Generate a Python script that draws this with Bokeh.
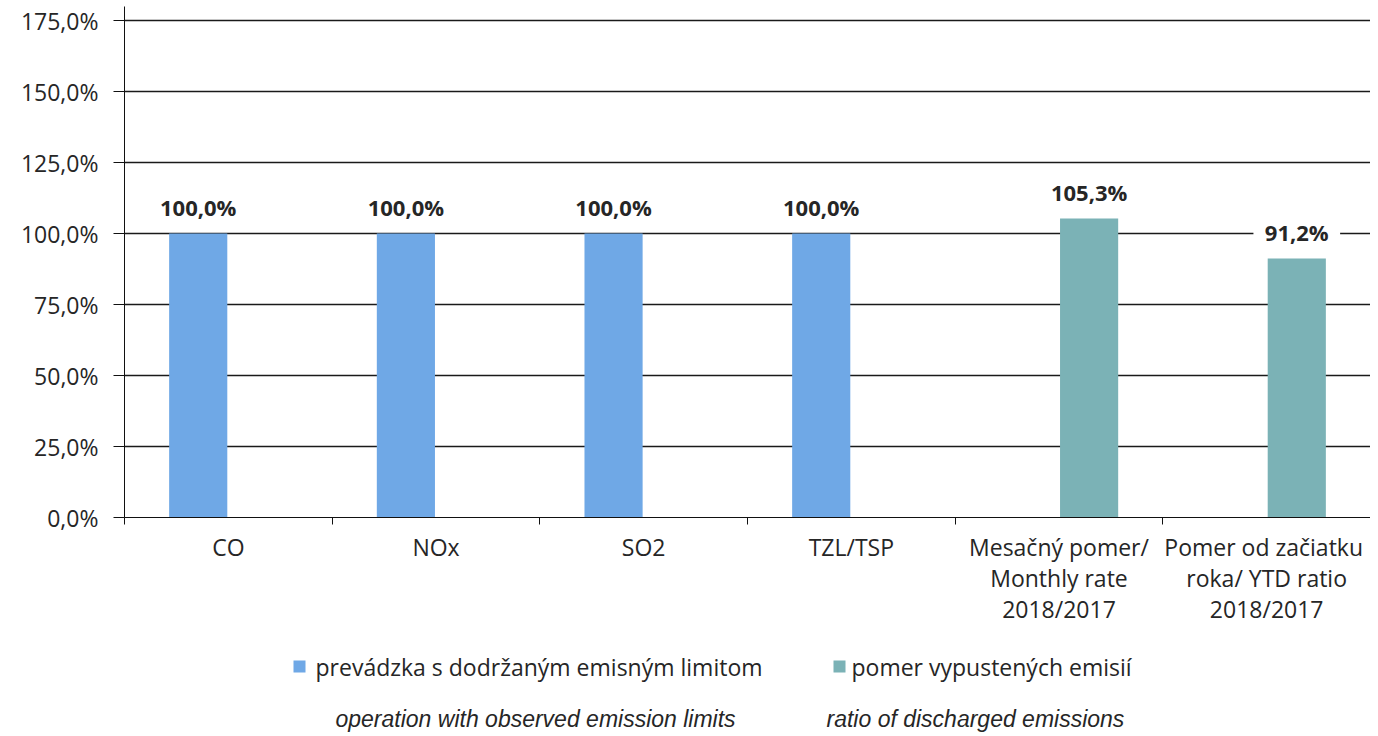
from bokeh.plotting import figure
from bokeh.layouts import column
from bokeh.models import (ColumnDataSource, FixedTicker, Range1d, LabelSet)
from bokeh.core.properties import value
from bokeh.transform import dodge
from bokeh.embed import file_html
from bokeh.resources import INLINE
import numpy as np

# ---- data ----
categories = ["CO", "NOx", "SO2", "TZL/TSP",
              "Mesačný pomer/\nMonthly rate\n2018/2017",
              "Pomer  od začiatku\nroka/ YTD ratio\n2018/2017"]
series_names = ["prevádzka s dodržaným emisným limitom", "pomer vypustených emisií"]
series_subtitles = ["operation with observed emission limits", "ratio of discharged emissions"]
limit_values = [100.0, 100.0, 100.0, 100.0, None, None]
ratio_values = [None, None, None, None, 105.3, 91.2]
series_values = [limit_values, ratio_values]
series_colors = ["#6FA8E6", "#7BB2B6"]
y_ticks = [0, 25, 50, 75, 100, 125, 150, 175]

def pct(v):
    return f"{v:.1f}".replace(".", ",") + "%"

NB = "\u00a0"
FONT = "Open Sans"
TXT = "#262626"
W = 1370
LEFT = 124

x_all = np.arange(len(categories)) + 0.5

p = figure(width=W, height=636, output_backend="svg", toolbar_location=None,
           x_range=Range1d(0, len(categories)), y_range=Range1d(0, 180),
           min_border_left=LEFT, min_border_right=0, min_border_top=6,
           min_border_bottom=119)
p.outline_line_color = None

bar_w = 0.28
offsets = [-0.145, 0.145]
for vals, col, off in zip(series_values, series_colors, offsets):
    idx = [i for i, v in enumerate(vals) if v is not None]
    src = ColumnDataSource(dict(x=[x_all[i] for i in idx],
                                top=[vals[i] for i in idx],
                                label=[NB + NB + pct(vals[i]) + NB + NB for i in idx]))
    p.vbar(x=dodge("x", off), top="top", width=bar_w, source=src,
           fill_color=col, line_color=None)
    p.add_layout(LabelSet(x=dodge("x", off), y="top", text="label", source=src, y_offset=27,
                          text_align="center", text_baseline="middle",
                          text_font=value(FONT), text_font_size=value("22px"),
                          text_font_style="bold", text_color=TXT,
                          background_fill_color="white"))

# y axis
p.yaxis.ticker = FixedTicker(ticks=y_ticks, minor_ticks=[])
p.yaxis.major_label_overrides = {t: pct(t) for t in y_ticks}
p.yaxis.major_label_text_font = FONT
p.yaxis.major_label_text_font_size = "23px"
p.yaxis.major_label_text_color = TXT
p.yaxis.axis_line_color = "#111111"
p.yaxis.major_tick_line_color = "#111111"
p.yaxis.major_tick_out = 11
p.yaxis.major_tick_in = 0
p.yaxis.major_label_standoff = 15

# x axis
p.xaxis.ticker = FixedTicker(ticks=list(x_all), minor_ticks=list(range(len(categories) + 1)))
p.xaxis.major_label_overrides = {float(xi): c for xi, c in zip(x_all, categories)}
p.xaxis.major_label_text_font = FONT
p.xaxis.major_label_text_font_size = "23px"
p.xaxis.major_label_text_color = TXT
p.xaxis.major_label_text_line_height = 0.97
p.xaxis.major_tick_line_color = None
p.xaxis.minor_tick_line_color = "#111111"
p.xaxis.minor_tick_out = 7
p.xaxis.minor_tick_in = 0
p.xaxis.axis_line_color = "#111111"
p.xaxis.major_label_standoff = 6

p.xgrid.grid_line_color = None
p.ygrid.grid_line_color = "#1a1a1a"
p.ygrid.grid_line_width = 1.5

# ---- legend strip (frame aligned with the chart frame; x in page pixels) ----
leg = figure(width=W, height=100, output_backend="svg", toolbar_location=None,
             x_range=Range1d(LEFT, W), y_range=Range1d(100, 0),
             x_axis_location=None, y_axis_location=None, min_border=0)
leg.grid.visible = False
leg.outline_line_color = None

marker_x = [299, 839]
text_x = [315, 851]
sub_x = [335, 826]
leg.scatter(x=marker_x, y=[30, 30], marker="square", size=12,
            fill_color=series_colors, line_color=None)
leg.text(x=text_x, y=[30, 30], text=series_names, text_baseline="middle",
         text_align="left", text_font=value(FONT), text_font_size="23px",
         text_color=TXT)
leg.text(x=sub_x, y=[82, 82], text=series_subtitles, text_baseline="middle",
         text_align="left", text_font=value("Liberation Sans"), text_font_style="italic",
         text_font_size="23px", text_color=TXT)

layout = column(p, leg, spacing=0)
open("out.html", "w").write(file_html(layout, INLINE))
